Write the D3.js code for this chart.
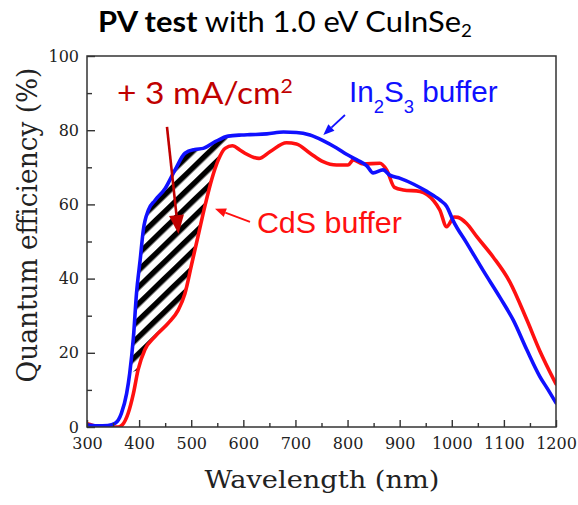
<!DOCTYPE html>
<html>
<head>
<meta charset="utf-8">
<script src="https://cdn.jsdelivr.net/npm/d3@7"></script>
<style>
  html, body { margin: 0; background: #fff; }
  svg { display: block; }
</style>
</head>
<body>
<svg id="chart" width="578" height="505"></svg>
<script>
// External quantum efficiency of CuInSe2 cells with two buffer layers
const in2s3Wavelength = [300, 320, 340, 354, 366, 376, 382, 389, 395, 402, 408, 418, 430, 450, 469, 488, 507, 523, 546, 571, 597, 613, 645, 677, 702, 728, 753, 779, 798, 818, 837, 849, 868, 881, 901, 926, 952, 977, 990, 1003, 1029, 1061, 1093, 1118, 1144, 1169, 1185, 1200];
const in2s3QE         = [0.6, 0.3, 0.4, 1.0, 3.7, 9.0, 14.5, 24.0, 36.0, 45.0, 53.0, 58.5, 61.0, 64.3, 69.3, 73.8, 74.8, 75.1, 76.9, 78.4, 78.7, 78.8, 79.0, 79.5, 79.4, 78.7, 77.2, 75.2, 73.5, 72.0, 70.4, 68.5, 69.3, 67.9, 67.0, 65.5, 63.5, 61.2, 59.5, 55.5, 49.5, 42.0, 34.8, 28.8, 20.8, 13.6, 10.0, 6.5];

const cdsWavelength = [300, 310, 322, 340, 360, 368, 379, 389, 398, 411, 430, 456, 475, 488, 501, 514, 526, 539, 552, 565, 579, 594, 603, 630, 651, 683, 702, 728, 753, 779, 801, 811, 830, 862, 875, 890, 907, 939, 965, 977, 990, 1005, 1012, 1028, 1048, 1080, 1111, 1144, 1169, 1200];
const cdsQE         = [0.9, 0.5, 0.1, 0.0, 0.0, 0.6, 3.7, 9.0, 15.4, 20.8, 24.3, 28.0, 31.5, 36.0, 44.0, 52.0, 59.4, 66.6, 72.0, 75.1, 75.8, 74.6, 73.8, 72.4, 74.2, 76.6, 76.3, 73.8, 71.5, 70.6, 70.6, 72.0, 70.9, 71.1, 69.3, 64.6, 63.9, 63.5, 61.0, 58.5, 54.0, 56.6, 56.5, 54.9, 51.3, 45.7, 39.2, 28.9, 20.5, 11.6];

// Wavelength band where the In2S3 buffer collects extra current
const gainBand = [382, 571];

// Axis ticks
const xMajorTicks = [300, 400, 500, 600, 700, 800, 900, 1000, 1100, 1200];
const xTickLabels = ["300", "400", "500", "600", "700", "800", "900", "1000", "1100", "1200"];
const xMinorTicks = [350, 450, 550, 650, 750, 850, 950, 1050, 1150];
const yMajorTicks = [0, 20, 40, 60, 80, 100];
const yTickLabels = ["0", "20", "40", "60", "80", "100"];
const yMinorTicks = [10, 30, 50, 70, 90];

const in2s3Series = in2s3Wavelength.map((w, i) => ({ w, q: in2s3QE[i] }));
const cdsSeries = cdsWavelength.map((w, i) => ({ w, q: cdsQE[i] }));

const svg = d3.select("#chart");
const margin = { left: 87, right: 22, top: 56, bottom: 78 };
const W = 578, H = 505;

const x = d3.scaleLinear().domain([300, 1200]).range([margin.left, W - margin.right]);
const y = d3.scaleLinear().domain([0, 100]).range([H - margin.bottom, margin.top]);

const serif = "'DejaVu Serif', 'Liberation Serif', serif";
const sans = "'Liberation Sans', Arial, sans-serif";
const humanist = "Lato, 'Open Sans', sans-serif";

svg.append("rect").attr("width", W).attr("height", H).attr("fill", "#fff");

// Hatched fill pattern for the current gain
const defs = svg.append("defs");
const pat = defs.append("pattern")
  .attr("id", "gainHatch")
  .attr("patternUnits", "userSpaceOnUse")
  .attr("width", 12).attr("height", 12)
  .attr("patternTransform", "rotate(-44)");
pat.append("rect").attr("width", 12).attr("height", 12).attr("fill", "#fff");
pat.append("rect").attr("width", 12).attr("height", 5.5).attr("fill", "#000");

defs.append("clipPath").attr("id", "plotClip")
  .append("rect")
  .attr("x", x(300)).attr("y", y(100))
  .attr("width", x(1200) - x(300)).attr("height", y(0) - y(100));

// Region between the two curves
const upper = in2s3Series.filter(d => d.w >= gainBand[0] && d.w <= gainBand[1]);
const lower = cdsSeries.filter(d => d.w >= 398 && d.w <= 565).reverse();
const band = upper.concat(lower);
svg.append("path")
  .attr("d", "M" + band.map(d => [x(d.w), y(d.q)].join(",")).join("L") + "Z")
  .attr("fill", "url(#gainHatch)");

// Curves
const line = d3.line().x(d => x(d.w)).y(d => y(d.q)).curve(d3.curveMonotoneX);
const plot = svg.append("g").attr("clip-path", "url(#plotClip)");
plot.append("path").datum(cdsSeries)
  .attr("d", line).attr("fill", "none")
  .attr("stroke", "#ff1010").attr("stroke-width", 3.6)
  .attr("stroke-linejoin", "round").attr("stroke-linecap", "round");
plot.append("path").datum(in2s3Series)
  .attr("d", line).attr("fill", "none")
  .attr("stroke", "#1010ff").attr("stroke-width", 3.6)
  .attr("stroke-linejoin", "round").attr("stroke-linecap", "round");

// Axes with inward ticks
const axisColor = "#333";
const xAxis = svg.append("g").attr("transform", `translate(0,${y(0)})`)
  .call(d3.axisBottom(x).tickValues(xMajorTicks).tickSize(-7).tickPadding(11)
    .tickFormat((d, i) => xTickLabels[i]));
svg.append("g").attr("transform", `translate(0,${y(0)})`)
  .call(d3.axisBottom(x).tickValues(xMinorTicks).tickSize(-4).tickFormat(""));
const yAxis = svg.append("g").attr("transform", `translate(${x(300)},0)`)
  .call(d3.axisLeft(y).tickValues(yMajorTicks).tickSize(-8).tickPadding(8)
    .tickFormat((d, i) => yTickLabels[i]));
svg.append("g").attr("transform", `translate(${x(300)},0)`)
  .call(d3.axisLeft(y).tickValues(yMinorTicks).tickSize(-5).tickFormat(""));

svg.selectAll(".domain").remove();
svg.selectAll(".tick line").attr("stroke", axisColor).attr("stroke-width", 1.4);
svg.selectAll(".tick text").attr("font-family", serif).attr("font-size", 16).attr("fill", "#222");

// Plot frame
svg.append("rect")
  .attr("x", x(300)).attr("y", y(100))
  .attr("width", x(1200) - x(300)).attr("height", y(0) - y(100))
  .attr("fill", "none").attr("stroke", axisColor).attr("stroke-width", 1.5);

// Scale a text element horizontally so it spans the given width
function stretch(sel, base, width) {
  const w = sel.node().getBBox().width;
  sel.attr("transform", `${base} scale(${width / w},1)`);
}

// Axis titles
const xTitle = svg.append("text")
  .attr("text-anchor", "middle")
  .attr("font-family", serif).attr("font-size", 25).attr("fill", "#222")
  .text("Wavelength (nm)");
stretch(xTitle, `translate(${(x(300) + x(1200)) / 2 + 0.5},488)`, 235);

const yTitle = svg.append("text")
  .attr("text-anchor", "middle")
  .attr("font-family", serif).attr("font-size", 27).attr("fill", "#222")
  .text("Quantum efficiency (%)");
stretch(yTitle, `translate(37,225) rotate(-90)`, 315);

// Chart title
const title = svg.append("text")
  .attr("font-family", humanist).attr("font-size", 28).attr("fill", "#000");
title.append("tspan").attr("font-weight", "bold").text("PV test");
title.append("tspan").text(" with 1.0 eV CuInSe");
title.append("tspan").attr("font-size", 17).attr("dy", 5).text("2");
stretch(title, `translate(98,32)`, 374);

// Arrow with a filled head, from (w1,q1) to the tip (w2,q2)
function arrow(w1, q1, w2, q2, color, lw, headLen, headW) {
  const x1 = x(w1), y1 = y(q1), x2 = x(w2), y2 = y(q2);
  const a = Math.atan2(y2 - y1, x2 - x1);
  const bx = x2 - headLen * Math.cos(a), by = y2 - headLen * Math.sin(a);
  const nx = -Math.sin(a) * headW / 2, ny = Math.cos(a) * headW / 2;
  svg.append("line")
    .attr("x1", x1).attr("y1", y1).attr("x2", bx).attr("y2", by)
    .attr("stroke", color).attr("stroke-width", lw);
  svg.append("path")
    .attr("d", `M${x2},${y2}L${bx + nx},${by + ny}L${bx - nx},${by - ny}Z`)
    .attr("fill", color);
}

// Current gain label
const gainColor = "#c00000";
const gain = svg.append("text")
  .attr("font-family", humanist).attr("font-size", 30).attr("fill", gainColor);
gain.append("tspan").text("+ 3 mA/cm");
gain.append("tspan").attr("font-size", 19).attr("dy", -11).text("2");
stretch(gain, `translate(${x(357.6)},${y(87.1)})`, 176);
arrow(453.5, 80.9, 475.6, 52.0, gainColor, 2.6, 19, 15);

// Series labels
const blueLabel = svg.append("text")
  .attr("font-family", sans).attr("font-size", 29).attr("fill", "#1010ff");
blueLabel.append("tspan").text("In");
blueLabel.append("tspan").attr("font-size", 18).attr("dy", 11).text("2");
blueLabel.append("tspan").attr("dy", -11).text("S");
blueLabel.append("tspan").attr("font-size", 18).attr("dy", 11).text("3");
blueLabel.append("tspan").attr("dy", -11).text(" buffer");
stretch(blueLabel, `translate(${x(802.8)},${y(87.6)})`, 149);
arrow(795, 84.1, 753.5, 78.7, "#1010ff", 1.8, 11, 9);

const redLabel = svg.append("text")
  .attr("font-family", sans).attr("font-size", 30).attr("fill", "#ff1010")
  .text("CdS buffer");
stretch(redLabel, `translate(${x(626)},${y(52.3)})`, 145);
arrow(612.8, 55.3, 545.6, 58.8, "#ff1010", 1.8, 11, 9);
</script>
</body>
</html>
